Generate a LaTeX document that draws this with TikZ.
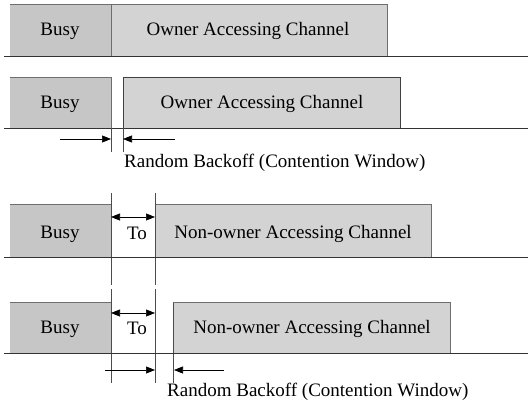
\documentclass[tikz,border=0pt]{standalone}
\usepackage{fontspec}
\setmainfont{Liberation Serif}
\usetikzlibrary{arrows.meta}
\definecolor{busyfill}{HTML}{C6C6C6}
\definecolor{chanfill}{HTML}{D3D3D3}
\definecolor{edgegray}{HTML}{6E6E6E}
\tikzset{
  busybox/.style={fill=busyfill, draw=none},
  chanbox/.style={fill=chanfill, draw=none},
  boxedge/.style={draw=edgegray, line width=1pt},
  axis/.style={draw=black!80, line width=0.8pt},
  marker/.style={draw=black!70, line width=0.7pt},
  spanarrow/.style={draw=black, line width=0.6pt, -{Triangle[length=9pt,width=7pt]}},
  twoway/.style={draw=black, line width=0.6pt, {Triangle[length=9pt,width=7pt]}-{Triangle[length=9pt,width=7pt]}},
  lbl/.style={font=\fontsize{19}{22}\selectfont, inner sep=0pt},
}
\begin{document}
\begin{tikzpicture}[x=1pt,y=-1pt]
\useasboundingbox (0,0) rectangle (528,403);

% ---- row 1: owner accessing channel right after busy
\path[busybox] (10,5) rectangle (111,56);
\path[chanbox] (111,5) rectangle (387,56);
\draw[boxedge] (10,5) -- (387,5) -- (387,56);
\draw[boxedge] (111,5) -- (111,56);
\node[lbl] (b1) at (60,31) {Busy};
\node[lbl] (o1) at (248,31) {Owner Accessing Channel};
\draw[axis] (4,56) -- (528,56);

% ---- row 2: owner with random backoff
\path[busybox] (10,78) rectangle (111,128);
\path[chanbox] (123,77) rectangle (400,128);
\draw[boxedge] (10,78) -- (111,78) -- (111,128);
\draw[draw=black!75, line width=0.8pt] (123,128) -- (123,77) -- (400,77) -- (400,128);
\node[lbl] (b2) at (60,104) {Busy};
\node[lbl] (o2) at (262,104) {Owner Accessing Channel};
\draw[axis] (4,128) -- (528,128);
\coordinate (m2a) at (111,152);
\coordinate (m2b) at (123,152);
\draw[marker] (111,128) -- (m2a);
\draw[marker] (123,128) -- (m2b);
\coordinate (r2s) at (60,139);
\coordinate (r2e) at (111,139);
\coordinate (l2s) at (175,139);
\coordinate (l2e) at (123,139);
\draw[spanarrow] (r2s) -- (r2e);
\draw[spanarrow] (l2s) -- (l2e);
\node[lbl, anchor=west] (rb2) at (124,163) {Random Backoff (Contention Window)};

% ---- row 3: non-owner waits To
\path[busybox] (10,205) rectangle (111,257);
\path[chanbox] (155,205) rectangle (431,257);
\draw[boxedge] (10,205) -- (111,205) -- (111,257);
\draw[boxedge] (155,205) -- (431,205) -- (431,257);
\draw[marker] (111,193) -- (111,285);
\draw[marker] (155,193) -- (155,285);
\node[lbl] (b3) at (60,234) {Busy};
\node[lbl] (t3) at (137,233) {To};
\node[lbl] (n3) at (293,234) {Non-owner Accessing Channel};
\coordinate (t3a) at (111,217);
\coordinate (t3b) at (155,217);
\draw[twoway] (t3a) -- (t3b);
\draw[axis] (4,257) -- (528,257);

% ---- row 4: non-owner waits To plus random backoff
\path[busybox] (10,303) rectangle (111,353);
\path[chanbox] (173,303) rectangle (450,353);
\draw[boxedge] (10,303) -- (111,303) -- (111,353);
\draw[boxedge] (173,303) -- (450,303) -- (450,353);
\draw[marker] (111,289) -- (111,383);
\draw[marker] (155,289) -- (155,383);
\draw[marker] (173,303) -- (173,383);
\node[lbl] (b4) at (60,329) {Busy};
\node[lbl] (t4) at (137,328) {To};
\node[lbl] (n4) at (312,329) {Non-owner Accessing Channel};
\coordinate (t4a) at (111,313);
\coordinate (t4b) at (155,313);
\draw[twoway] (t4a) -- (t4b);
\draw[axis] (4,353) -- (528,353);
\coordinate (r4s) at (105,370);
\coordinate (r4e) at (155,370);
\coordinate (l4s) at (224,370);
\coordinate (l4e) at (174,370);
\draw[spanarrow] (r4s) -- (r4e);
\draw[spanarrow] (l4s) -- (l4e);
\node[lbl, anchor=west] (rb4) at (167,392) {Random Backoff (Contention Window)};
\end{tikzpicture}
\end{document}
